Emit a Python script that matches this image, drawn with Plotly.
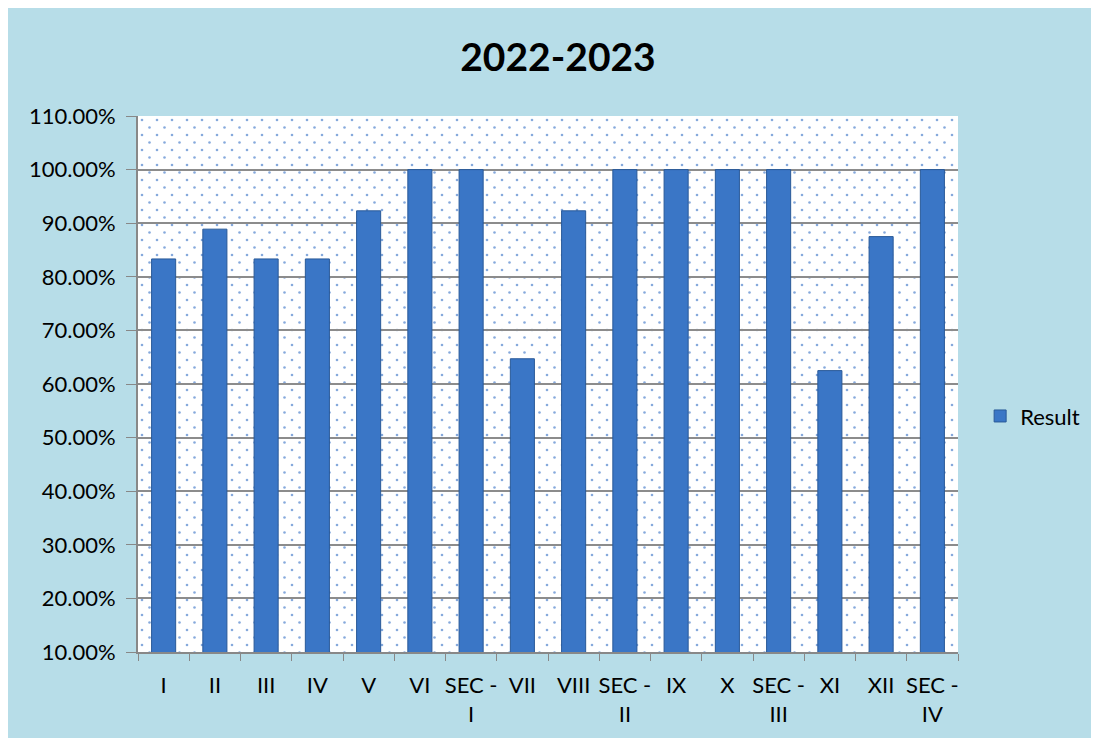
import base64
import plotly.graph_objects as go

categories = ["I", "II", "III", "IV", "V", "VI", "SEC - I", "VII", "VIII",
              "SEC - II", "IX", "X", "SEC - III", "XI", "XII", "SEC - IV"]
result = [0.8333, 0.8889, 0.8333, 0.8333, 0.9231, 1.0, 1.0, 0.6471, 0.9231,
          1.0, 1.0, 1.0, 1.0, 0.625, 0.875, 1.0]
tick_labels = [c.replace(" - ", " -<br>") for c in categories]

# page body adds an 8px offset, so the figure fills the rest of the window
W, H = 1091, 730
L, T, pw, ph = 130, 108, 820, 536
R, B = W - L - pw, H - T - ph

# background: dotted white plot area
svg = f'''<svg xmlns="http://www.w3.org/2000/svg" width="{W}" height="{H}" viewBox="0 0 {W} {H}">
<defs><pattern id="d" x="{L}" y="{T}" width="15" height="15" patternUnits="userSpaceOnUse">
<circle cx="4" cy="4" r="1.3" fill="#86a9dc"/><circle cx="11.5" cy="11.5" r="1.3" fill="#86a9dc"/></pattern></defs>
<rect width="{W}" height="{H}" fill="#b7dde8"/>
<rect x="{L}" y="{T}" width="{pw}" height="{ph}" fill="#ffffff"/>
<rect x="{L}" y="{T}" width="{pw}" height="{ph}" fill="url(#d)"/>
</svg>'''
bg = "data:image/svg+xml;base64," + base64.b64encode(svg.encode()).decode()

fig = go.Figure()
fig.add_trace(go.Bar(
    x=categories, y=result, name="Result",
    marker=dict(color="#3a76c6", line=dict(color="#2a5a98", width=1)),
))

fig.update_layout(
    width=W, height=H,
    margin=dict(l=L, r=R, t=T, b=B),
    paper_bgcolor="#b7dde8",
    plot_bgcolor="rgba(0,0,0,0)",
    font=dict(family="Lato, Carlito, sans-serif", size=22, color="black"),
    title=dict(text="<b>2022-2023</b>", x=550 / W, xanchor="center",
               y=1 - 49 / H, yanchor="middle", font=dict(size=39)),
    bargap=0.53,
    showlegend=True,
    legend=dict(x=1.027, y=0.44, yanchor="middle", xanchor="left",
                bgcolor="rgba(0,0,0,0)", font=dict(size=22), itemwidth=30),
    images=[dict(source=bg, xref="paper", yref="paper",
                 x=-L / pw, y=1 + T / ph, sizex=W / pw, sizey=H / ph,
                 xanchor="left", yanchor="top", sizing="stretch", layer="below")],
)
fig.update_xaxes(
    tickvals=categories, ticktext=tick_labels, tickangle=0, automargin=False,
    tickson="boundaries", ticks="outside", ticklen=7, tickcolor="#888888",
    showline=True, linecolor="#888888", linewidth=2,
    showgrid=False, ticklabelstandoff=13,
)
fig.update_yaxes(
    range=[0.1, 1.1], dtick=0.1, tick0=0.1, tickformat=".2%", automargin=False,
    ticks="outside", ticklen=10, tickcolor="#888888",
    showline=True, linecolor="#888888", linewidth=2,
    showgrid=True, gridcolor="#8c8c8c", gridwidth=1.5,
    zeroline=False, ticklabelstandoff=6,
)

fig.write_html("out.html")
